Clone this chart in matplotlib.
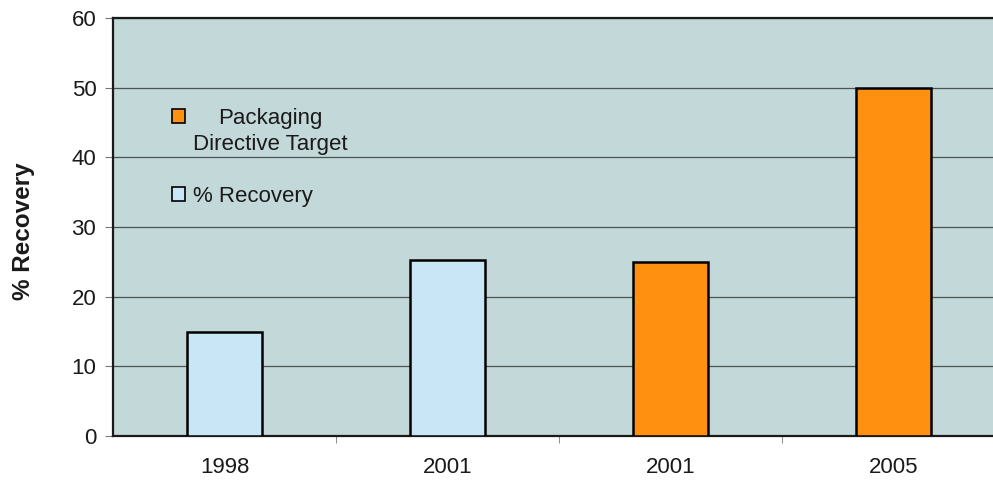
import numpy as np
import matplotlib
matplotlib.use("Agg")
import matplotlib.pyplot as plt
from matplotlib.patches import Patch

plt.rcParams['font.family'] = ['Liberation Sans', 'DejaVu Sans']

# data
categories = ["1998", "2001", "2001", "2005"]
recovery = [15, 25.2, 0, 0]
target = [0, 0, 25, 50]
series_kind = ["recovery", "recovery", "target", "target"]

blue = "#c8e6f5"
orange = "#ff9010"
bg = "#c3d8d8"

fig = plt.figure(figsize=(9.93, 4.82), dpi=100)
ax = fig.add_axes([113/993, 46/482, 892/993, 418/482])
ax.set_facecolor(bg)

x = np.arange(len(categories))
vals = [r if k == "recovery" else t for r, t, k in zip(recovery, target, series_kind)]
cols = [blue if k == "recovery" else orange for k in series_kind]
ax.bar(x, vals, width=0.333, color=cols, edgecolor="black", linewidth=1.8, zorder=3)

ax.set_xlim(-0.5, 3.5)
ax.set_ylim(0, 60)
ax.set_yticks(np.arange(0, 61, 10))
ax.yaxis.grid(True, color="#4a5454", linewidth=0.9, zorder=1)
ax.set_axisbelow(True)

ax.set_xticks(x)
ax.set_xticklabels(categories, fontsize=16, color="#1a1a1a")
ax.tick_params(axis="x", which="major", length=0, pad=15)
ax.set_xticks([0.5, 1.5, 2.5], minor=True)
ax.tick_params(axis="x", which="minor", length=5, color="#777777")
ax.tick_params(axis="y", labelsize=16, labelcolor="#1a1a1a", length=6, color="#777777", pad=6)

for s in ["left", "bottom", "top"]:
    ax.spines[s].set_color("#1a1a1a")
    ax.spines[s].set_linewidth(1.6)
ax.spines["right"].set_visible(False)

ax.set_ylabel("% Recovery", fontsize=17.5, fontweight="bold", color="#1a1a1a")
ax.yaxis.set_label_coords(-0.088, 0.49)

fs = 16
handles = [Patch(facecolor=orange, edgecolor="black", linewidth=1.2),
           Patch(facecolor=blue, edgecolor="black", linewidth=1.2)]
leg = ax.legend(handles, ["Packaging\nDirective Target", "% Recovery"],
                loc="upper left", bbox_to_anchor=(0.0535, 0.812), frameon=False,
                fontsize=fs, handlelength=0.6, handleheight=0.6, borderpad=0,
                handletextpad=0.35, labelspacing=1.37)
leg.get_texts()[0].set_multialignment("center")
leg.get_texts()[0].set_linespacing(1.35)
for t in leg.get_texts():
    t.set_color("#1a1a1a")
# lift the orange square up to the first line of its two-line label
h0 = leg.legend_handles[0]
h0.set_y(h0.get_y() + 0.7 * fs)

fig.savefig("out.png", dpi=100, facecolor="white")
